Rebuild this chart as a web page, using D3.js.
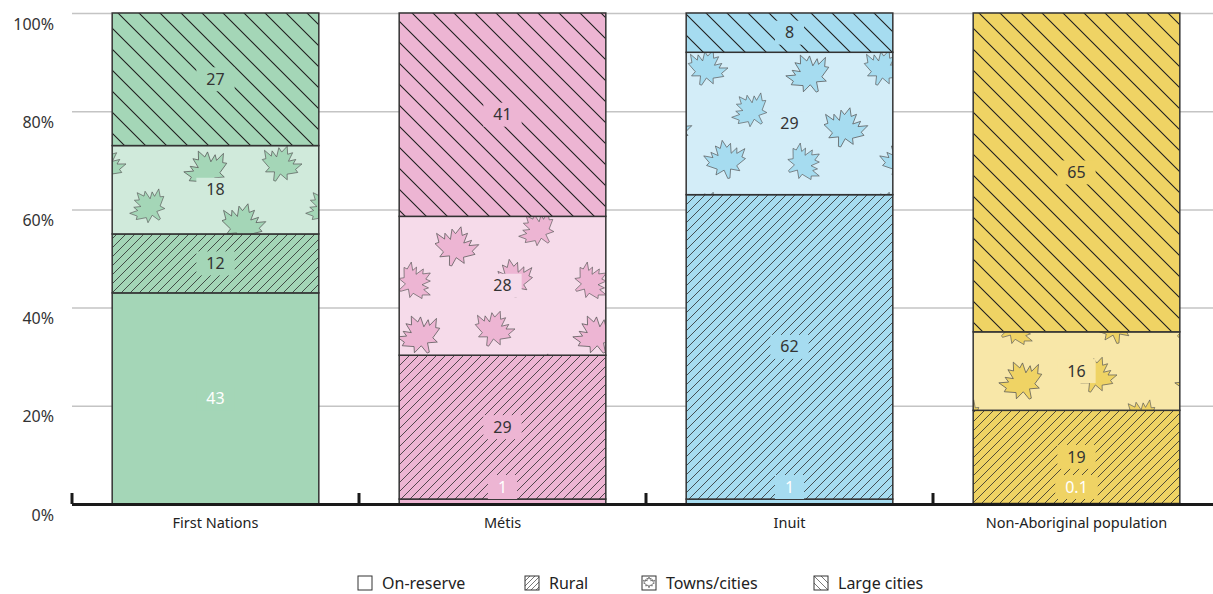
<!DOCTYPE html>
<html>
<head>
<meta charset="utf-8">
<script src="https://cdn.jsdelivr.net/npm/d3@7"></script>
<style>
  body { margin: 0; background: #fff; }
  text { font-family: "Noto Sans", "Lato", sans-serif; }
</style>
</head>
<body>
<script>
// ---- Data ----
const categories = ["First Nations", "Métis", "Inuit", "Non-Aboriginal population"];
const series = ["On-reserve", "Rural", "Towns/cities", "Large cities"];
const onReserve   = [43, 1, 1, 0.1];
const rural       = [12, 29, 62, 19];
const townsCities = [18, 28, 29, 16];
const largeCities = [27, 41, 8, 65];
const yTicks = [0, 20, 40, 60, 80, 100];

// colours per category (base, light)
const baseColors  = ["#a4d6b7", "#edb5d3", "#a6dcf0", "#efd364"];
const lightColors = ["#d0eadb", "#f6dbea", "#d3edf8", "#f8e7a8"];

const W = 1213, H = 594;
const svg = d3.select("body").append("svg").attr("width", W).attr("height", H);
const defs = svg.append("defs");

const rows = categories.map((c, i) => ({
  category: c, idx: i,
  "On-reserve": onReserve[i], "Rural": rural[i], "Towns/cities": townsCities[i], "Large cities": largeCities[i]
}));
const stacked = d3.stack().keys(series).offset(d3.stackOffsetExpand)(rows);

const x = d3.scaleBand().domain(categories).range([72, 1220]).paddingInner(0.28).paddingOuter(0.14);
const y = d3.scaleLinear().domain([0, 1]).range([504, 13]);

// ---- patterns ----
function hatch(id, size, d, color, width) {
  const p = defs.append("pattern").attr("id", id).attr("patternUnits", "userSpaceOnUse")
    .attr("width", size).attr("height", size);
  p.append("path").attr("d", d).attr("stroke", color).attr("stroke-width", width).attr("fill", "none");
}
hatch("rural", 9, "M0,9 L9,0 M-2,2 L2,-2 M7,11 L11,7", "#2b2b2b", 0.8);
hatch("large", 21, "M0,0 L21,21 M-4,17 L4,25 M17,-4 L25,4", "#1e1e1e", 1.1);
hatch("ruralLeg", 5, "M0,5 L5,0 M-1,1 L1,-1 M4,6 L6,4", "#555", 0.8);
hatch("largeLeg", 7, "M0,0 L7,7 M-2,5 L2,9 M5,-2 L9,2", "#555", 0.8);

const leafPath = "M0,-20 L3,-13 L7,-16 L6,-7 L12,-11 L11,-6 L19,-9 L15,-2 L18,0 L9,5 L11,10 L3,7 L1,15 L-1,15 L-3,7 L-11,10 L-9,5 L-18,0 L-15,-2 L-19,-9 L-11,-6 L-12,-11 L-6,-7 L-7,-16 L-3,-13 Z";
const leafSpots = [[32, 30, -25, 1.15], [104, 24, 20, 1.05], [150, 66, -40, 1.0], [66, 84, 15, 1.15], [24, 118, 60, 1.0], [124, 116, -10, 1.1]];
baseColors.forEach((col, i) => {
  const p = defs.append("pattern").attr("id", "leaf" + i).attr("patternUnits", "userSpaceOnUse")
    .attr("width", 176).attr("height", 142)
    .attr("patternTransform", `translate(${i * 37},${i * 23})`);
  leafSpots.forEach(([cx, cy, r, s]) => {
    p.append("path").attr("d", leafPath)
      .attr("transform", `translate(${cx},${cy}) rotate(${r}) scale(${s})`)
      .attr("fill", col).attr("stroke", "#555").attr("stroke-width", 0.6);
  });
});

// ---- gridlines ----
const grid = svg.append("g").attr("transform", "translate(72,0)")
  .call(d3.axisLeft(y).tickValues(yTicks.map(v => v / 100)).tickSize(-(W - 72)).tickFormat(""));
grid.select(".domain").remove();
grid.selectAll(".tick line").attr("stroke", "#c4c4c4").attr("stroke-width", 1.5);

// ---- y labels ----
const ya = svg.append("g").attr("transform", "translate(54,0)")
  .call(d3.axisLeft(y).tickValues(yTicks.map(v => v / 100)).tickSize(0).tickPadding(0)
    .tickFormat(d => Math.round(d * 100) + "%"));
ya.select(".domain").remove();
ya.selectAll("text").attr("font-size", 16).attr("fill", "#333").attr("dy", "0.32em")
  .attr("transform", "translate(0,11)").style("font-family", "'Noto Sans', sans-serif");

// ---- bars ----
const barG = svg.append("g");
stacked.forEach((layer, si) => {
  layer.forEach((d, ci) => {
    const x0 = x(categories[ci]), bw = x.bandwidth();
    const yt = y(d[1]), yb = y(d[0]);
    const h = Math.max(0, yb - yt);
    const g = barG.append("g");
    const bg = si === 2 ? lightColors[ci] : baseColors[ci];
    g.append("rect").attr("x", x0).attr("y", yt).attr("width", bw).attr("height", h).attr("fill", bg);
    if (si === 1) g.append("rect").attr("x", x0).attr("y", yt).attr("width", bw).attr("height", h).attr("fill", "url(#rural)");
    if (si === 2) g.append("rect").attr("x", x0).attr("y", yt).attr("width", bw).attr("height", h).attr("fill", `url(#leaf${ci})`);
    if (si === 3) g.append("rect").attr("x", x0).attr("y", yt).attr("width", bw).attr("height", h).attr("fill", "url(#large)");
    g.append("rect").attr("x", x0).attr("y", yt).attr("width", bw).attr("height", h)
      .attr("fill", "none").attr("stroke", "#333").attr("stroke-width", 1.5);
  });
});

// ---- value labels ----
const valueArrays = [onReserve, rural, townsCities, largeCities];
const labG = svg.append("g");
stacked.forEach((layer, si) => {
  layer.forEach((d, ci) => {
    const cx = x(categories[ci]) + x.bandwidth() / 2;
    const yt = y(d[1]), yb = y(d[0]);
    let cy = (yt + yb) / 2;
    if (yb - yt < 24) cy = yb - 17;
    const txt = String(valueArrays[si][ci]);
    const bg = si === 2 ? lightColors[ci] : baseColors[ci];
    const g = labG.append("g");
    const rect = g.append("rect").attr("fill", bg);
    const t = g.append("text").attr("x", cx).attr("y", cy).attr("dy", "0.35em")
      .attr("text-anchor", "middle").attr("font-size", 16)
      .attr("fill", si === 0 ? "#ffffff" : "#333").text(txt);
    const tw = t.node().getComputedTextLength();
    rect.attr("x", cx - tw / 2 - 10).attr("y", cy - 12).attr("width", tw + 20).attr("height", 24);
  });
});

// ---- x axis ----
const xa = svg.append("g").attr("transform", "translate(0,504)")
  .call(d3.axisBottom(x).tickSize(0).tickPadding(14));
xa.select(".domain").remove();
xa.selectAll("text").attr("font-size", 14.5).attr("fill", "#222").style("font-family", "'Noto Sans', sans-serif");
svg.append("line").attr("x1", 72).attr("x2", W).attr("y1", 504.5).attr("y2", 504.5)
  .attr("stroke", "#1a1a1a").attr("stroke-width", 3);
const off = (x.step() - x.bandwidth()) / 2;
svg.append("g").selectAll("line").data(categories).join("line")
  .attr("x1", d => x(d) - off).attr("x2", d => x(d) - off)
  .attr("y1", 493).attr("y2", 504).attr("stroke", "#1a1a1a").attr("stroke-width", 3);

// ---- legend ----
const legendX = [358, 525, 642, 814];
const legFill = ["#fff", "url(#ruralLeg)", "#fff", "url(#largeLeg)"];
const leg = svg.append("g");
series.forEach((s, i) => {
  const g = leg.append("g").attr("transform", `translate(${legendX[i]},576)`);
  g.append("rect").attr("width", 14).attr("height", 14).attr("fill", legFill[i])
    .attr("stroke", "#333").attr("stroke-width", 1);
  if (i === 2) {
    g.append("path").attr("d", leafPath).attr("transform", "translate(7,7) scale(0.3)")
      .attr("fill", "#fff").attr("stroke", "#555").attr("stroke-width", 2.5);
  }
  g.append("text").attr("x", 24).attr("y", 7).attr("dy", "0.35em").attr("font-size", 16)
    .attr("fill", "#222").text(s);
});
</script>
</body>
</html>
